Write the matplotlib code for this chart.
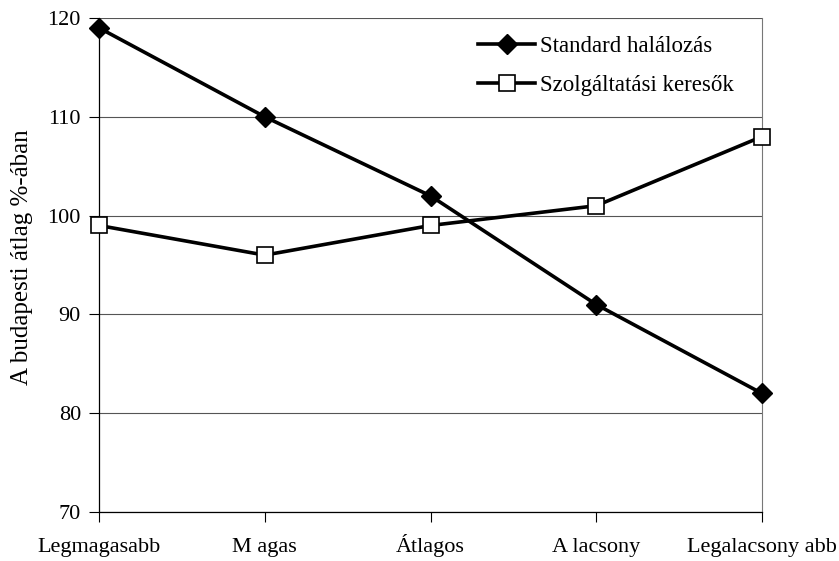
import matplotlib.pyplot as plt
import numpy as np

categories = ['Legmagasabb', 'M agas', 'Átlagos', 'A lacsony', 'Legalacsony abb']
standard = [119, 110, 102, 91, 82]
szolg = [99, 96, 99, 101, 108]
yticks = [70, 80, 90, 100, 110, 120]

plt.rcParams['font.family'] = ['Liberation Serif', 'DejaVu Serif']

fig = plt.figure(figsize=(8.39, 5.61), dpi=100)
ax = fig.add_axes([99 / 839, 1 - 512 / 561, (762 - 99) / 839, (512 - 18) / 561])

x = np.arange(len(categories))
ax.plot(x, standard, color='black', lw=2.6, marker='D', ms=10,
        mfc='black', mec='black', label='Standard halálozás', clip_on=False, zorder=3)
ax.plot(x, szolg, color='black', lw=2.6, marker='s', ms=12,
        mfc='white', mec='black', mew=1.2, label='Szolgáltatási keresők', clip_on=False, zorder=3)

ax.set_xlim(0, len(categories) - 1)
ax.set_ylim(70, 120)
ax.set_yticks(yticks)
ax.set_xticks(x)
ax.set_xticklabels(categories, va='baseline')
ax.tick_params(axis='both', labelsize=16, length=7, width=0.8, direction='out')
ax.tick_params(axis='x', pad=21.5)
ax.tick_params(axis='y', pad=6)
ax.yaxis.grid(True, color='#555555', lw=0.8)
ax.set_axisbelow(True)

ax.spines['top'].set_visible(False)
ax.spines['right'].set_color('#777777')
ax.spines['right'].set_linewidth(0.8)
ax.spines['left'].set_linewidth(0.9)
ax.spines['bottom'].set_linewidth(0.9)

ax.set_ylabel('A budapesti átlag %-ában', fontsize=18)
ax.yaxis.set_label_coords(-0.1, 0.515)

leg = ax.legend(loc='upper right', bbox_to_anchor=(0.985, 1.0), fontsize=16.5,
                frameon=True, fancybox=False, edgecolor='white', facecolor='white',
                framealpha=1, handlelength=2.5, handletextpad=0.2, labelspacing=0.75,
                borderpad=0.3)

fig.savefig('out.png', dpi=100)
